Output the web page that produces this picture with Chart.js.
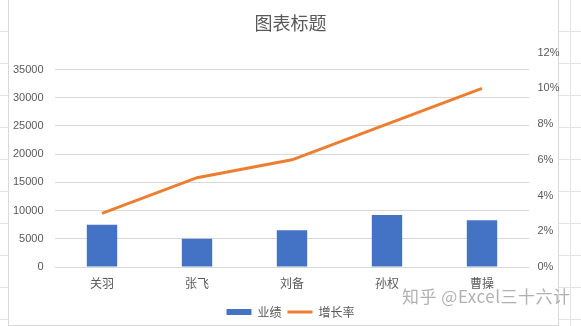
<!DOCTYPE html>
<html>
<head>
<meta charset="utf-8">
<script src="https://cdn.jsdelivr.net/npm/chart.js@4"></script>
<style>
  html, body { margin: 0; padding: 0; }
  body {
    width: 581px; height: 326px; position: relative; overflow: hidden;
    background: #fff repeating-linear-gradient(to bottom, transparent 0, transparent 31px, #e3e3e3 31px, #e3e3e3 32px);
  }
  #sheetCol { position: absolute; left: 570px; top: 0; width: 1px; height: 326px; background: #e3e3e3; }
  #box {
    position: absolute; left: 8px; top: 0; width: 549px; height: 325px;
    background: #fff; border: 1px solid #d9d9d9; border-top: none;
  }
  #wrap { position: absolute; left: 0; top: 0; width: 581px; height: 326px; }
  #mark {
    position: absolute; left: 402px; top: 283px; font: 17px "Noto Sans CJK SC", sans-serif;
    color: rgba(150, 150, 150, 0.75); white-space: nowrap; letter-spacing: 0.5px;
  }
</style>
</head>
<body>
<div id="sheetCol"></div>
<div id="box"></div>
<div id="wrap"><canvas id="chart" width="581" height="326"></canvas></div>
<div id="mark">知乎 @Excel三十六计</div>
<script>
const names = ['关羽', '张飞', '刘备', '孙权', '曹操'];
const sales = [7500, 5000, 6500, 9200, 8300];
const growth = [3, 5, 6, 8, 10]; // percent
const salesTicks = [0, 5000, 10000, 15000, 20000, 25000, 30000, 35000];
const growthTicks = [0, 2, 4, 6, 8, 10, 12];
const titleText = '图表标题';
const salesLabel = '业绩';
const growthLabel = '增长率';

const textColor = '#595959';
const fontFamily = '"Liberation Sans", "Noto Sans CJK SC", sans-serif';
const cjkFont = '"Noto Sans CJK SC", sans-serif';

new Chart(document.getElementById('chart'), {
    type: 'bar',
    data: {
        labels: names,
        datasets: [{
            label: salesLabel,
            data: sales,
            backgroundColor: '#4472C4',
            categoryPercentage: 0.32,
            barPercentage: 1,
            yAxisID: 'y',
            order: 2
        }, {
            type: 'line',
            label: growthLabel,
            data: growth,
            borderColor: '#ED7D31',
            backgroundColor: '#ED7D31',
            borderWidth: 3,
            pointRadius: 0,
            tension: 0,
            yAxisID: 'y2',
            order: 1
        }]
    },
    options: {
        responsive: false,
        animation: false,
        devicePixelRatio: 1,
        layout: { padding: { left: 0, right: 0, top: 0, bottom: -2 } },
        scales: {
            x: {
                grid: { display: false },
                border: { display: false },
                ticks: { color: textColor, padding: 1, font: { family: cjkFont, size: 12 } },
                afterFit: scale => { scale.height = 33; }
            },
            y: {
                position: 'left',
                min: 0,
                // the left scale runs a little past its last label so its top line sits below 12%
                max: 38000,
                ticks: {
                    color: textColor,
                    padding: 11,
                    font: { family: fontFamily, size: 11 },
                    callback: v => String(v)
                },
                grid: { color: '#D9D9D9', drawTicks: false },
                border: { display: false },
                afterBuildTicks: scale => {
                    scale.ticks = salesTicks.map(v => ({ value: v }));
                },
                afterFit: scale => { scale.width = 54.5; }
            },
            y2: {
                position: 'right',
                min: 0,
                max: 12,
                ticks: {
                    color: textColor,
                    padding: 8,
                    font: { family: fontFamily, size: 11 },
                    callback: v => v + '%'
                },
                grid: { display: false, drawTicks: false },
                border: { display: false },
                afterBuildTicks: scale => {
                    scale.ticks = growthTicks.map(v => ({ value: v }));
                },
                afterFit: scale => { scale.width = 51.5; }
            }
        },
        plugins: {
            title: {
                display: true,
                text: titleText,
                color: textColor,
                font: { family: cjkFont, size: 18, weight: 'normal' },
                padding: { top: 12, bottom: 19 }
            },
            legend: {
                position: 'bottom',
                labels: {
                    usePointStyle: true,
                    pointStyleWidth: 25,
                    boxHeight: 6,
                    color: textColor,
                    padding: 6,
                    font: { family: cjkFont, size: 12 },
                    generateLabels: chart => chart.data.datasets.map((ds, i) => ({
                        text: ds.label,
                        fillStyle: ds.backgroundColor,
                        strokeStyle: ds.borderColor || ds.backgroundColor,
                        lineWidth: i === 1 ? 3 : 0,
                        pointStyle: i === 1 ? 'line' : 'rect',
                        fontColor: textColor,
                        datasetIndex: i
                    }))
                }
            },
            tooltip: { enabled: false }
        }
    }
});
</script>
</body>
</html>
